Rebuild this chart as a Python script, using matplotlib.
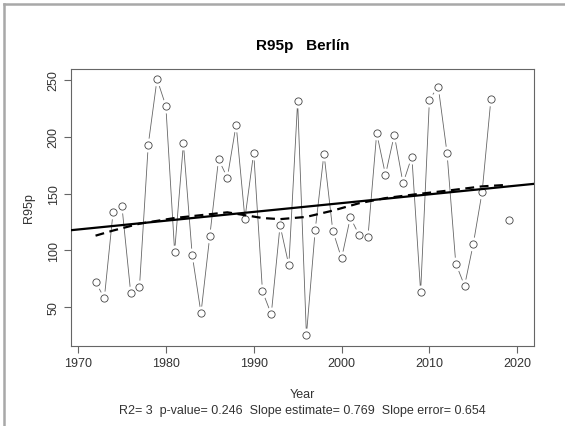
import matplotlib
matplotlib.use("Agg")
import matplotlib.pyplot as plt
import numpy as np
from matplotlib.lines import Line2D

plt.rcParams['font.family'] = ['Liberation Sans', 'DejaVu Sans']

# R95p values per year (2018 missing)
years = list(range(1972, 2020))
r95p = [72.5, 58, 134, 139, 63, 68, 193, 250.5, 227, 99, 194, 96, 45, 112.5, 180,
        164, 210.5, 128, 186, 64, 44, 122, 87, 231, 25.5, 118, 185, 117.5, 93, 129,
        113.5, 111.5, 203, 166.5, 201.5, 159, 182.5, 63.5, 232.5, 244, 186, 88.5,
        69, 106, 151.5, 233, np.nan, 126.5]

# smoothed curve (dashed)
smooth_x = [1972, 1974, 1977, 1981, 1984, 1987, 1989, 1991, 1993, 1996, 1999, 2002,
            2005, 2008.6, 2012, 2016, 2019]
smooth_y = [113, 117.5, 123.5, 128.5, 131, 133.5, 131, 128.5, 127.5, 129.5, 135, 141.5,
            146, 149.5, 152.5, 156.3, 157.7]

title = "R95p   Berl\u00edn"
stats_text = "R2= 3  p-value= 0.246  Slope estimate= 0.769  Slope error= 0.654"

x = np.array(years, dtype=float)
y = np.array(r95p, dtype=float)

fig = plt.figure(figsize=(5.65, 4.27), dpi=100)
ax = fig.add_axes([0.1251, 0.188, 0.82, 0.648])

xlim = (1969.17, 2021.9)
ylim = (16.3, 259.4)

# data line with gaps around points (R type="b")
ax.plot(x, y, color='#666666', lw=0.6, zorder=2)
ax.plot(x, y, 'o', ms=10, mfc='white', mec='none', zorder=3)
ax.plot(x, y, 'o', ms=5.2, mfc='white', mec='#444444', mew=0.6, zorder=4)

# linear regression
ok = ~np.isnan(y)
slope, icpt = np.polyfit(x[ok], y[ok], 1)
xx = np.array(xlim)
ax.plot(xx, icpt + slope * xx, color='black', lw=1.6, zorder=5)

# smoothed trend
ax.plot(smooth_x, smooth_y, color='black', lw=1.6, ls=(0, (4, 2.5)), zorder=5)

ax.set_xlim(xlim)
ax.set_ylim(ylim)
ax.set_xticks([1970, 1980, 1990, 2000, 2010, 2020])
ax.set_yticks([50, 100, 150, 200, 250])
ax.tick_params(direction='out', length=5, width=0.8, color='#666666',
               labelsize=9, labelcolor='#333333', pad=3)
for lab in ax.get_yticklabels():
    lab.set_rotation(90)
    lab.set_va('center')
for sp in ax.spines.values():
    sp.set_color('#666666')
    sp.set_linewidth(0.8)

ax.set_ylabel("R95p", fontsize=9, color='#333333', labelpad=9)
fig.text(0.535, 0.893, title, ha='center', va='center', fontsize=11,
         fontweight='bold')
fig.text(0.535, 0.075, "Year", ha='center', va='center', fontsize=9, color='#333333')
fig.text(0.535, 0.038, stats_text, ha='center', va='center', fontsize=9,
         color='#333333')

# gray window frame on top and left
fig.add_artist(Line2D([4 / 565, 1], [1 - 4.5 / 427, 1 - 4.5 / 427],
                      transform=fig.transFigure, color='#a8a8a8', lw=1.8))
fig.add_artist(Line2D([4 / 565, 4 / 565], [0, 1 - 4.5 / 427],
                      transform=fig.transFigure, color='#a8a8a8', lw=1.8))

fig.savefig("out.png", dpi=100)
